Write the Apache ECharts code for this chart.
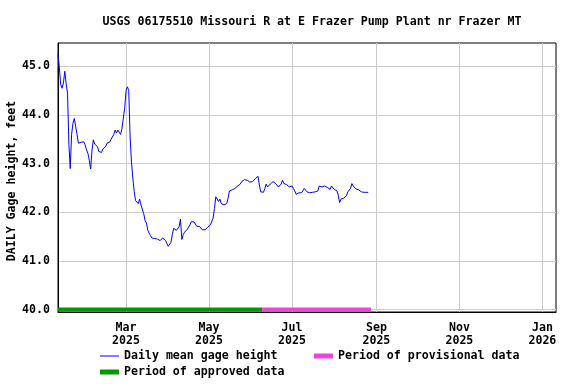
<!DOCTYPE html>
<html>
<head>
<meta charset="utf-8">
<script src="https://cdn.jsdelivr.net/npm/echarts@6/dist/echarts.min.js"></script>
<style>
html,body{margin:0;padding:0;background:#fff;}
#c{width:576px;height:384px;}
</style>
</head>
<body>
<div id="c"></div>
<script>
// Daily mean gage height (feet), one value per day starting 2025-01-10
const startDate = '2025-01-10';
const gageHeight = [
45.24,44.97,44.62,44.55,44.66,44.90,44.64,44.45,43.40,42.90,
43.60,43.83,43.93,43.76,43.60,43.42,43.45,43.44,43.42,43.45,
43.38,43.28,43.21,43.07,42.89,43.28,43.49,43.40,43.39,43.35,
43.25,43.23,43.23,43.30,43.33,43.35,43.42,43.42,43.44,43.50,
43.52,43.60,43.69,43.63,43.69,43.73,43.60,43.72,43.76,44.14,
44.50,44.58,44.50,43.55,43.03,42.70,42.43,42.24,42.20,42.18,
42.27,42.15,42.12,41.97,41.83,41.78,41.63,41.57,41.52,41.47,
41.46,41.46,41.45,41.45,41.45,41.42,41.45,41.47,41.45,41.42,
41.38,41.30,41.33,41.38,41.54,41.67,41.64,41.63,41.65,41.70,
41.86,41.44,41.54,41.59,41.63,41.65,41.67,41.74,41.81,41.80,
41.80,41.78,41.71,41.67,41.71,41.67,41.64,41.64,41.64,41.67,
41.69,41.71,41.74,41.76,41.88,42.08,42.32,42.29,42.22,42.27,
42.18,42.22,42.15,42.17,42.18,42.29,42.44,42.46,42.46,42.47,
42.49,42.51,42.54,42.56,42.58,42.63,42.66,42.67,42.69,42.66,
42.63,42.62,42.62,42.63,42.66,42.69,42.73,42.74,42.56,42.42,
42.39,42.41,42.49,42.58,42.52,42.56,42.58,42.59,42.63,42.66,
42.59,42.56,42.52,42.51,42.58,42.66,42.59,42.56,42.57,42.56,
42.52,42.49,42.54,42.49,42.44,42.37,42.36,42.40,42.42,42.40,
42.44,42.49,42.51,42.42,42.42,42.40,42.42,42.41,42.41,42.42,
42.44,42.44,42.54,42.55,42.52,42.49,42.54,42.56,42.51,42.47,
42.47,42.54,42.52,42.47,42.46,42.44,42.35,42.20,42.27,42.27,
42.29,42.32,42.34,42.42,42.39,42.49,42.59,42.54,42.51,42.48,
42.47,42.46,42.44,42.42,42.41,42.41,42.41,42.41,42.41
];
const approvedPeriod = ['2025-01-10', '2025-06-09'];
const provisionalPeriod = ['2025-06-09', '2025-08-28'];
const xTickDates = ['2025-03-01','2025-05-01','2025-07-01','2025-09-01','2025-11-01','2026-01-01'];
const xTickLabels = ['Mar\n2025','May\n2025','Jul\n2025','Sep\n2025','Nov\n2025','Jan\n2026'];
const yTicks = [40, 41, 42, 43, 44, 45];
const titleText = 'USGS 06175510 Missouri R at E Frazer Pump Plant nr Frazer MT';
const yAxisTitle = 'DAILY Gage height, feet';

const ts = s => { const p = s.split('-').map(Number); return Date.UTC(p[0], p[1]-1, p[2]); };
const DAY = 86400000;
const t0 = ts(startDate);
const lineData = gageHeight.map((v, i) => [t0 + i * DAY, v]);
const xTickTs = xTickDates.map(ts);
const labelFor = {};
xTickTs.forEach((t, i) => { labelFor[t] = xTickLabels[i]; });

const FONT = 'DejaVu Sans Mono';
const txt = { fontFamily: FONT, fontWeight: 'bold', fontSize: 11.6, color: '#000' };

const chart = echarts.init(document.getElementById('c'), null, { renderer: 'canvas' });
chart.setOption({
  animation: false,
  backgroundColor: '#fff',
  title: {
    text: titleText, left: 307, top: 11, textAlign: 'center',
    textStyle: Object.assign({}, txt)
  },
  graphic: [{
    type: 'text', x: 12, y: 181, rotation: Math.PI / 2,
    style: {
      text: yAxisTitle, fill: '#000', font: 'bold 11.6px "DejaVu Sans Mono"',
      align: 'center', verticalAlign: 'middle', textAlign: 'center', textVerticalAlign: 'middle'
    }
  }],
  grid: { left: 58, right: 20, top: 43, bottom: 72, show: true, borderColor: '#000', borderWidth: 1,
    containLabel: false, outerBoundsMode: 'none' },
  xAxis: {
    type: 'value',
    min: ts('2025-01-10'), max: ts('2026-01-11'),
    axisLine: { show: true, lineStyle: { color: '#000', width: 1 } },
    axisTick: { show: false, customValues: xTickTs },
    splitLine: { show: true, lineStyle: { color: '#cccccc', width: 1 } },
    axisLabel: {
      customValues: xTickTs,
      formatter: v => labelFor[v] || '',
      margin: 9, lineHeight: 13,
      fontFamily: FONT, fontWeight: 'bold', fontSize: 11.6, color: '#000'
    }
  },
  yAxis: {
    type: 'value', min: 39.95, max: 45.48,
    axisLine: { show: true, lineStyle: { color: '#000', width: 1 } },
    axisTick: { show: false, customValues: yTicks },
    splitLine: { show: true, lineStyle: { color: '#cccccc', width: 1 } },
    axisLabel: {
      customValues: yTicks,
      formatter: v => Number(v).toFixed(1), margin: 8,
      fontFamily: FONT, fontWeight: 'bold', fontSize: 11.6, color: '#000'
    }
  },
  legend: [
    { data: [{ name: 'Daily mean gage height', icon: 'rect' }], left: 100, top: 350, itemWidth: 19, itemHeight: 1, itemGap: 0, padding: 0,
      textStyle: Object.assign({}, txt) },
    { data: [{ name: 'Period of provisional data', icon: 'rect' }], left: 314, top: 350, itemWidth: 19, itemHeight: 5, itemGap: 0, padding: 0,
      textStyle: Object.assign({}, txt) },
    { data: [{ name: 'Period of approved data', icon: 'rect' }], left: 100, top: 366, itemWidth: 19, itemHeight: 5, itemGap: 0, padding: 0,
      textStyle: Object.assign({}, txt) }
  ],
  series: [
    { name: 'Period of approved data', type: 'line', symbol: 'none', z: 3,
      data: [[ts(approvedPeriod[0]), 40], [ts(approvedPeriod[1]), 40]],
      lineStyle: { color: '#009900', width: 4 }, itemStyle: { color: '#009900' } },
    { name: 'Period of provisional data', type: 'line', symbol: 'none', z: 3,
      data: [[ts(provisionalPeriod[0]), 40], [ts(provisionalPeriod[1]), 40]],
      lineStyle: { color: '#ee44dd', width: 4 }, itemStyle: { color: '#ee44dd' } },
    { name: 'Daily mean gage height', type: 'line', symbol: 'none', z: 4,
      data: lineData,
      lineStyle: { color: '#0000ff', width: 1 }, itemStyle: { color: '#0000ff' } }
  ]
});
</script>
</body>
</html>
